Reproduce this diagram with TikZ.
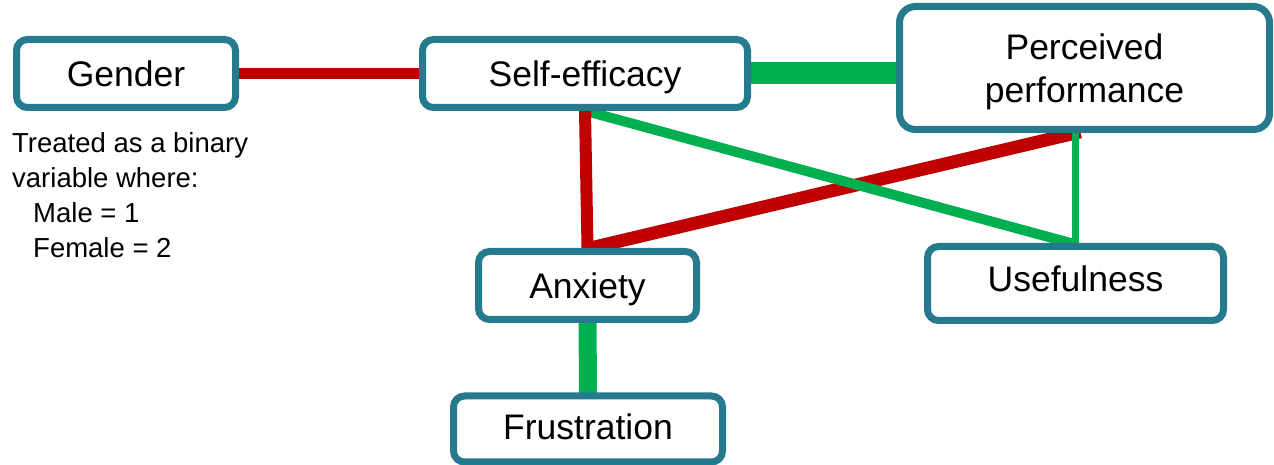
\documentclass[tikz,border=0pt]{standalone}
\usepackage{fontspec}
\setmainfont{Liberation Sans}
\usetikzlibrary{backgrounds,calc}
\definecolor{boxteal}{RGB}{38,122,142}
\definecolor{linkred}{RGB}{192,0,0}
\definecolor{linkgreen}{RGB}{0,176,80}
\begin{document}
\begin{tikzpicture}[x=1pt,y=1pt,
  var/.style={draw=boxteal, line width=7pt, fill=white, rounded corners=11pt,
    inner sep=0pt, font=\fontsize{35.5}{43}\selectfont,
    text height=25.5pt, text depth=0pt},
  neglink/.style={draw=linkred, shorten <=-5pt, shorten >=-5pt},
  poslink/.style={draw=linkgreen, shorten <=-5pt, shorten >=-5pt}]
\useasboundingbox (0,0) rectangle (1274,465);

% variables
\node[var, minimum width=219pt, minimum height=68pt] (gender) at (126,391.5) {Gender};
\node[var, minimum width=325pt, minimum height=68pt] (se) at (585,391.5) {Self-efficacy};
\node[var, minimum width=370pt, minimum height=123pt, rounded corners=16pt,
      align=center, text height=68.5pt] (pp) at (1084.5,397) {Perceived\\performance};
\node[var, minimum width=218pt, minimum height=68pt] (anx) at (587.5,179.5) {Anxiety};
\node[var, minimum width=296pt, minimum height=74pt, text depth=9pt] (use) at (1075.5,181.5) {Usefulness};
\node[var, minimum width=269pt, minimum height=66pt, text depth=4pt] (frus) at (588,36) {Frustration};

% coding note under Gender
\node[anchor=base west, align=left, inner sep=0pt,
      font=\fontsize{27.5}{35}\selectfont] (note) at (12,207)
  {Treated as a binary\\variable where:\\\hspace*{21pt}Male = 1\\\hspace*{21pt}Female = 2};

% relations, drawn behind the boxes
\begin{pgfonlayer}{background}
\draw[neglink, line width=13pt] ([xshift=3pt]anx.north) -- ([xshift=-9pt]pp.south);
\draw[poslink, line width=7pt] (pp.south -| use.north) -- (use.north);
\draw[poslink, line width=10pt] ([xshift=1pt]se.south) -- ([xshift=-5pt]use.north);
\draw[neglink, line width=12pt] (se.south) -- (anx.north);
\draw[neglink, line width=11pt] (gender) -- (se);
\draw[poslink, line width=22pt] (se.east) -- (se.east -| pp.west);
\draw[poslink, line width=18pt] (anx) -- (frus);
\end{pgfonlayer}
\end{tikzpicture}
\end{document}
